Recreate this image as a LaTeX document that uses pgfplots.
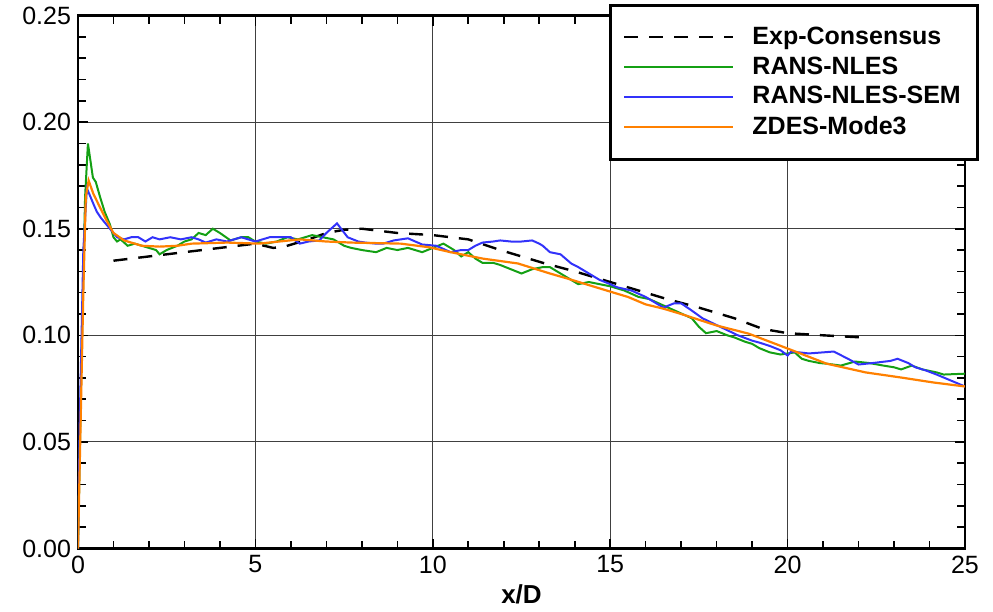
\documentclass[border=0pt]{standalone}
\usepackage{pgfplots}
\pgfplotsset{compat=1.18}
\usepackage{fontspec}
\setmainfont{Liberation Sans}
\definecolor{cgreen}{RGB}{20,160,20}
\definecolor{cblue}{RGB}{50,50,250}
\definecolor{corange}{RGB}{255,128,0}
\begin{document}
\begin{tikzpicture}
\begin{axis}[
  scale only axis,
  width=443.5pt, height=266.5pt,
  xmin=0, xmax=25, ymin=0, ymax=0.25,
  xtick={0,5,...,25}, ytick={0,0.05,...,0.25},
  minor x tick num=4, minor y tick num=4,
  tick align=inside,
  major tick length=5pt, minor tick length=4pt,
  grid=major,
  major grid style={black!75, line width=0.5pt},
  axis line style={line width=1.1pt},
  every tick/.style={black, line width=0.8pt},
  tick label style={font=\fontsize{12.5}{15}\selectfont},
  /pgf/number format/assume math mode=true,
  yticklabel style={/pgf/number format/.cd, fixed, fixed zerofill, precision=2},
  scaled y ticks=false,
  xlabel={\bfseries x/D},
  xlabel style={font=\fontsize{13}{15}\selectfont, yshift=1pt},
  legend cell align=left,
  legend style={at={(0.5986,1.0225)}, anchor=north west, draw=black, line width=1.5pt,
    font=\fontsize{12.5}{15}\selectfont\bfseries, inner xsep=6.5pt, inner ysep=9pt,
    row sep=0.6pt, column sep=7pt, fill=white},
  legend image code/.code={\draw[line width=1pt,#1] (0pt,0pt) -- (54.5pt,0pt);},
]
\addplot[black, line width=1.2pt, dash pattern=on 7pt off 5.5pt] coordinates {
(1.0,0.135) (2.0,0.137) (3.0,0.139) (4.0,0.141) (5.0,0.143) (5.5,0.141) (5.8,0.1415) (6.5,0.145) (7.0,0.148) (7.5,0.1495) (8.0,0.150) (9.0,0.148) (10.0,0.147) (11.0,0.145) (11.9,0.140) (13.1,0.134) (14.0,0.130) (15.0,0.125) (16.0,0.120) (16.6,0.117) (17.5,0.113) (18.5,0.108) (19.3,0.103) (20.0,0.101) (21.0,0.100) (22.1,0.099)
};
\addlegendentry{Exp-Consensus}
\addplot[cgreen, line width=1pt] coordinates {
(0,0) (0.1,0.09) (0.2,0.165) (0.28,0.190) (0.35,0.182) (0.42,0.174) (0.5,0.172) (0.62,0.165) (0.75,0.158) (0.9,0.152) (1.0,0.146) (1.1,0.144) (1.2,0.145) (1.4,0.142) (1.6,0.143) (1.8,0.142) (2.0,0.141) (2.2,0.140) (2.3,0.138) (2.5,0.140) (2.8,0.142) (3.0,0.144) (3.2,0.145) (3.4,0.148) (3.6,0.147) (3.8,0.150) (4.0,0.148) (4.3,0.1445) (4.6,0.146) (4.8,0.146) (5.0,0.144) (5.3,0.143) (5.6,0.144) (5.9,0.146) (6.2,0.145) (6.6,0.147) (6.9,0.146) (7.2,0.145) (7.5,0.142) (7.7,0.141) (8.0,0.140) (8.4,0.139) (8.7,0.141) (9.0,0.140) (9.3,0.141) (9.7,0.139) (10.0,0.141) (10.3,0.143) (10.6,0.140) (10.8,0.137) (11.0,0.139) (11.2,0.136) (11.4,0.134) (11.7,0.134) (11.9,0.133) (12.2,0.131) (12.5,0.129) (12.8,0.131) (13.1,0.132) (13.3,0.132) (13.6,0.129) (13.9,0.126) (14.1,0.124) (14.4,0.125) (14.7,0.124) (15.0,0.123) (15.4,0.121) (15.8,0.118) (16.1,0.117) (16.5,0.114) (16.9,0.111) (17.3,0.108) (17.5,0.104) (17.7,0.101) (18.0,0.102) (18.3,0.100) (18.5,0.099) (18.8,0.097) (19.0,0.096) (19.2,0.094) (19.5,0.092) (19.8,0.091) (20.0,0.0915) (20.2,0.092) (20.4,0.089) (20.6,0.088) (20.9,0.087) (21.1,0.0867) (21.5,0.0858) (21.9,0.0877) (22.3,0.087) (22.7,0.0858) (23.0,0.085) (23.2,0.084) (23.5,0.0858) (23.8,0.084) (24.2,0.0826) (24.4,0.0816) (24.7,0.0818) (25.0,0.082)
};
\addlegendentry{RANS-NLES}
\addplot[cblue, line width=1pt] coordinates {
(0,0) (0.05,0.06) (0.15,0.14) (0.25,0.169) (0.35,0.165) (0.45,0.161) (0.53,0.158) (0.65,0.155) (0.8,0.152) (0.95,0.149) (1.1,0.146) (1.3,0.145) (1.5,0.146) (1.7,0.146) (1.9,0.144) (2.1,0.146) (2.3,0.145) (2.6,0.146) (2.9,0.145) (3.2,0.146) (3.4,0.145) (3.6,0.1435) (3.9,0.145) (4.2,0.144) (4.6,0.146) (4.8,0.145) (5.0,0.144) (5.2,0.145) (5.4,0.146) (5.7,0.146) (6.0,0.146) (6.25,0.143) (6.5,0.144) (6.8,0.1445) (7.0,0.148) (7.3,0.1525) (7.6,0.146) (7.9,0.144) (8.1,0.1435) (8.4,0.143) (8.6,0.143) (8.9,0.1445) (9.3,0.1455) (9.7,0.1426) (10.1,0.142) (10.5,0.139) (10.8,0.140) (11.0,0.140) (11.2,0.142) (11.4,0.1435) (11.7,0.144) (11.9,0.1445) (12.2,0.144) (12.5,0.144) (12.8,0.1445) (13.0,0.143) (13.1,0.142) (13.3,0.139) (13.6,0.138) (13.9,0.1337) (14.1,0.132) (14.4,0.129) (14.7,0.126) (15.0,0.124) (15.2,0.1225) (15.6,0.121) (16.0,0.118) (16.3,0.115) (16.5,0.113) (16.8,0.115) (17.0,0.115) (17.3,0.1116) (17.6,0.108) (18.1,0.104) (18.6,0.100) (19.0,0.0975) (19.2,0.0966) (19.5,0.095) (19.8,0.093) (20.0,0.0905) (20.1,0.0924) (20.6,0.0915) (21.0,0.092) (21.3,0.0924) (21.7,0.089) (22.0,0.0863) (22.4,0.087) (22.9,0.088) (23.1,0.089) (23.4,0.087) (23.6,0.085) (23.9,0.0835) (24.2,0.0816) (24.6,0.0788) (25.0,0.076)
};
\addlegendentry{RANS-NLES-SEM}
\addplot[corange, line width=1.1pt] coordinates {
(0,0) (0.05,0.04) (0.15,0.12) (0.22,0.165) (0.3,0.1726) (0.43,0.1665) (0.62,0.160) (0.8,0.154) (1.0,0.148) (1.3,0.1445) (1.8,0.142) (2.3,0.1416) (2.8,0.142) (3.2,0.143) (4.2,0.1435) (5.1,0.143) (6.25,0.145) (7.0,0.144) (7.7,0.1435) (9.1,0.143) (9.9,0.1413) (10.5,0.139) (11.4,0.136) (12.4,0.1337) (13.3,0.129) (13.8,0.1266) (15.0,0.1205) (15.5,0.118) (16.0,0.1145) (16.5,0.1125) (17.0,0.110) (18.0,0.1046) (18.9,0.1008) (20.0,0.0938) (21.1,0.0867) (22.2,0.0826) (23.2,0.0802) (24.1,0.0779) (25.0,0.076)
};
\addlegendentry{ZDES-Mode3}
\end{axis}
\path (current axis.south west) ++(-39pt,274pt) coordinate (tl);
\path (current axis.south west) ++(457.5pt,-30pt) coordinate (br);
\path (tl) -- (br);
\end{tikzpicture}
\end{document}
